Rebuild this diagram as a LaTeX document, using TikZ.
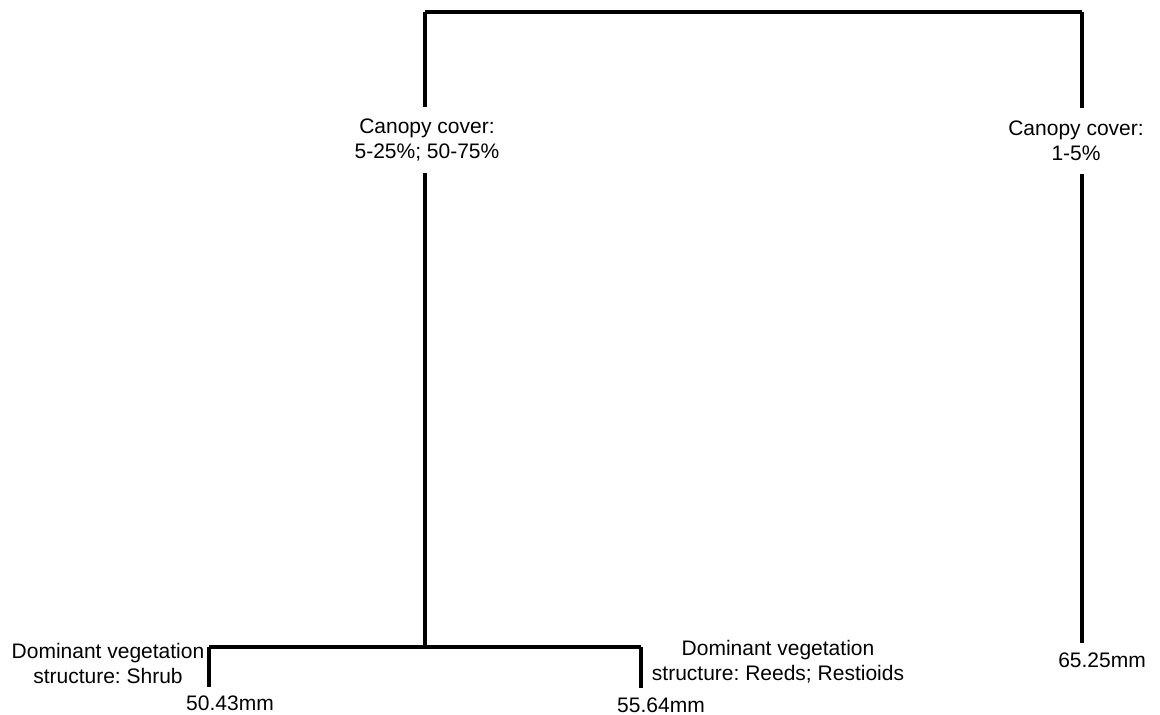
\documentclass[tikz,border=0pt]{standalone}
\usepackage{fontspec}
\setmainfont{Liberation Sans}
\frenchspacing
\usetikzlibrary{positioning}

\tikzset{
  branch/.style={line width=2.2pt},
  lab/.style={align=center, inner sep=0pt, font=\fontsize{10.5}{12.5}\selectfont},
  gaplab/.style={lab, minimum height=33pt}
}

\begin{document}
\begin{tikzpicture}[x=0.5pt, y=-0.5pt]
\useasboundingbox (0,0) rectangle (1160,715);
% top of the tree
\coordinate (topL) at (425,12);
\coordinate (topR) at (1082,12);
\draw [branch] (topL) -- (topR);
% left branch
\node [gaplab] (canL) at (427,140) {Canopy cover:\\5-25\%; 50-75\%};
\coordinate (join) at (425,647);
\draw [branch] (topL) -- (canL.north -| topL);
\draw [branch] (canL.south -| topL) -- (join);
% right branch
\node [gaplab] (canR) at (1076,141) {Canopy cover:\\1-5\%};
\coordinate (endR) at (1082,643);
\draw [branch] (topR) -- (canR.north -| topR);
\draw [branch] (canR.south -| topR) -- (endR);
\node [lab] (mmR) at (1102,660) {65.25mm};
% bottom split
\coordinate (splitL) at (209,647);
\coordinate (splitR) at (641,647);
\coordinate (endL) at (209,687);
\coordinate (endM) at (641,688);
\draw [branch] (splitL) -- (splitR);
\draw [branch] (splitL) -- (endL);
\draw [branch] (splitR) -- (endM);
\node [lab] (shrub) at (108,663) {Dominant vegetation\\structure: Shrub};
\node [lab] (mmL) at (230,703) {50.43mm};
\node [lab] (reeds) at (778,662) {Dominant vegetation\\structure: Reeds; Restioids};
\node [lab] (mmM) at (661,705) {55.64mm};
\end{tikzpicture}
\end{document}
